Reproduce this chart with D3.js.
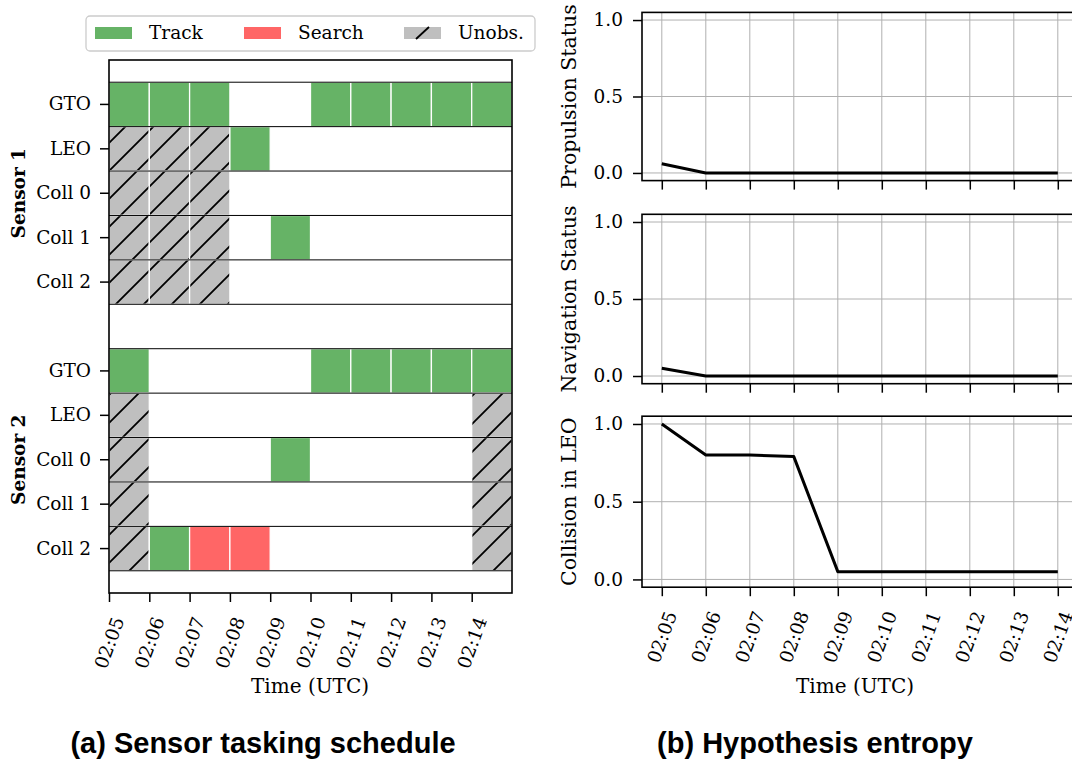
<!DOCTYPE html>
<html><head><meta charset="utf-8">
<script src="https://cdn.jsdelivr.net/npm/d3@7"></script>
<style>
body{margin:0;background:#fff}
svg{display:block}
text{font-family:"DejaVu Serif",serif;fill:#000}
</style>
</head><body><svg id="c" width="1072" height="762"></svg>
<script>
// ---------- data ----------
const minutes = ["02:05","02:06","02:07","02:08","02:09","02:10","02:11","02:12","02:13","02:14"];
const rowLabels = ["GTO","LEO","Coll 0","Coll 1","Coll 2"];
const sensorNames = ["Sensor 1","Sensor 2"];
// T = Track, S = Search, U = Unobservable, "" = idle
const sensor1Schedule = [
  ["T","T","T","","","T","T","T","T","T"],
  ["U","U","U","T","","","","","",""],
  ["U","U","U","","","","","","",""],
  ["U","U","U","","T","","","","",""],
  ["U","U","U","","","","","","",""]
];
const sensor2Schedule = [
  ["T","","","","","T","T","T","T","T"],
  ["U","","","","","","","","","U"],
  ["U","","","","T","","","","","U"],
  ["U","","","","","","","","","U"],
  ["U","T","S","S","","","","","","U"]
];
const legendLabels = ["Track","Search","Unobs."];
const propulsionEntropy = [0.06,0,0,0,0,0,0,0,0,0];
const navigationEntropy = [0.05,0,0,0,0,0,0,0,0,0];
const collisionEntropy  = [1.0,0.80,0.80,0.79,0.05,0.05,0.05,0.05,0.05,0.05];
const entropyLabels = ["Propulsion Status","Navigation Status","Collision in LEO"];
const entropyTicks = [0,0.5,1.0];
const captions = ["(a) Sensor tasking schedule","(b) Hypothesis entropy"];

// ---------- styles ----------
const FS = 18.5;      // tick / legend font
const LFS = 20;       // axis label font
const colors = {T:"#66b366", S:"#ff6666", U:"#bfbfbf"};
const svg = d3.select("#c");
const defs = svg.append("defs");
const pat = defs.append("pattern").attr("id","hatch").attr("patternUnits","userSpaceOnUse")
  .attr("width",28).attr("height",28);
pat.append("path").attr("d","M0,28 L28,0 M-7,7 L7,-7 M21,35 L35,21")
  .attr("stroke","#000").attr("stroke-width",1.8);

// ---------- left panel ----------
const L = {x0:109, x1:512, y0:60, y1:593};
const xL = d3.scaleLinear().domain([0,10]).range([L.x0,L.x1]);
const allRows = [];
sensor1Schedule.forEach((r,i)=>allRows.push({label:rowLabels[i], cells:r}));
allRows.push({label:"", cells:[]});
sensor2Schedule.forEach((r,i)=>allRows.push({label:rowLabels[i], cells:r}));
const yL = d3.scaleBand().domain(d3.range(allRows.length)).range([L.y0,L.y1]).paddingInner(0).paddingOuter(0.5);
const bw = yL.bandwidth();

const gL = svg.append("g");
allRows.forEach((row,ri)=>{
  row.cells.forEach((s,j)=>{
    if(!s) return;
    gL.append("rect").attr("x",xL(j)).attr("y",yL(ri)).attr("width",xL(j+1)-xL(j)).attr("height",bw)
      .attr("fill",colors[s]);
    gL.append("rect").attr("x",xL(j)).attr("y",yL(ri)).attr("width",xL(j+1)-xL(j)).attr("height",bw)
      .attr("fill",s==="U"?"url(#hatch)":"none").attr("stroke","#fff").attr("stroke-width",1.3);
  });
});
// row separators
d3.range(allRows.length+1).forEach(i=>{
  const y = i<allRows.length ? yL(i) : yL(allRows.length-1)+bw;
  gL.append("line").attr("x1",L.x0).attr("x2",L.x1).attr("y1",y).attr("y2",y)
    .attr("stroke","#000").attr("stroke-width",1);
});
gL.append("rect").attr("x",L.x0).attr("y",L.y0).attr("width",L.x1-L.x0).attr("height",L.y1-L.y0)
  .attr("fill","none").attr("stroke","#000").attr("stroke-width",1.6);

// y axis
const rowIdx = d3.range(allRows.length).filter(i=>allRows[i].label);
const yAx = gL.append("g").attr("transform",`translate(${L.x0},0)`)
  .call(d3.axisLeft(yL).tickValues(rowIdx).tickFormat(i=>allRows[i].label).tickSize(9).tickPadding(9));
yAx.select(".domain").remove();
yAx.selectAll("line").attr("stroke","#000").attr("stroke-width",1.5);
yAx.selectAll("text").style("font-family","DejaVu Serif").style("font-size",FS+"px");

// x axis
const xAx = gL.append("g").attr("transform",`translate(0,${L.y1})`)
  .call(d3.axisBottom(xL).tickValues(d3.range(minutes.length)).tickFormat(i=>minutes[i]).tickSize(9));
xAx.select(".domain").remove();
xAx.selectAll("line").attr("stroke","#000").attr("stroke-width",1.5);
xAx.selectAll("text").style("font-family","DejaVu Serif").style("font-size",FS+"px")
  .attr("text-anchor","end").attr("dy",0).attr("y",0)
  .attr("transform","translate(15,27) rotate(-70)");

// sensor labels
sensorNames.forEach((n,k)=>{
  const rows = k===0 ? [0,4] : [6,10];
  const cy = (yL(rows[0]) + yL(rows[1])+bw)/2;
  gL.append("text").attr("transform",`translate(25,${cy}) rotate(-90)`).attr("text-anchor","middle")
    .style("font-weight","bold").style("font-size",FS+"px").text(n);
});
gL.append("text").attr("x",310).attr("y",693).attr("text-anchor","middle").style("font-size",LFS+"px").text("Time (UTC)");

// legend
const lg = svg.append("g");
lg.append("rect").attr("x",86).attr("y",16).attr("width",449).attr("height",35).attr("rx",4)
  .attr("fill","#fff").attr("stroke","#cccccc").attr("stroke-width",1.3);
const legendKeys = ["T","S","U"];
const legendPX = [95,244,404];
const legendTX = [149,298,458];
legendKeys.forEach((k,i)=>{
  lg.append("rect").attr("x",legendPX[i]).attr("y",27).attr("width",37).attr("height",12).attr("fill",colors[k]);
  if(k==="U"){
    lg.append("line").attr("x1",legendPX[i]+12).attr("y1",39).attr("x2",legendPX[i]+25).attr("y2",27)
      .attr("stroke","#000").attr("stroke-width",1.8);
  }
  lg.append("text").attr("x",legendTX[i]).attr("y",39).style("font-size",FS+"px").text(legendLabels[i]);
});

// ---------- right panel ----------
const xR = d3.scaleLinear().domain([-0.45,9.45]).range([642,1077.6]);
const panels = [
  {data:propulsionEntropy, top:12.4, bot:180.6},
  {data:navigationEntropy, top:214.3, bot:383.7},
  {data:collisionEntropy,  top:416.2, bot:587.2}
];
panels.forEach((p,k)=>{
  const g = svg.append("g");
  const y = d3.scaleLinear().domain([-0.05,1.05]).range([p.bot,p.top]);
  const xl = xR.range()[0], xr = xR.range()[1];
  d3.range(minutes.length).forEach(i=>{
    g.append("line").attr("x1",xR(i)).attr("x2",xR(i)).attr("y1",p.top).attr("y2",p.bot)
      .attr("stroke","#b0b0b0").attr("stroke-width",1);
  });
  entropyTicks.forEach(t=>{
    g.append("line").attr("x1",xl).attr("x2",xr).attr("y1",y(t)).attr("y2",y(t))
      .attr("stroke","#b0b0b0").attr("stroke-width",1);
  });
  g.append("path").datum(p.data)
    .attr("d",d3.line().x((d,i)=>xR(i)).y(d=>y(d)))
    .attr("fill","none").attr("stroke","#000").attr("stroke-width",3).attr("stroke-linejoin","round");
  g.append("rect").attr("x",xl).attr("y",p.top).attr("width",xr-xl).attr("height",p.bot-p.top)
    .attr("fill","none").attr("stroke","#000").attr("stroke-width",1.6);
  const ya = g.append("g").attr("transform",`translate(${xl},0)`)
    .call(d3.axisLeft(y).tickValues(entropyTicks).tickFormat(d3.format(".1f")).tickSize(9).tickPadding(10));
  ya.select(".domain").remove();
  ya.selectAll("line").attr("stroke","#000").attr("stroke-width",1.5);
  ya.selectAll("text").style("font-family","DejaVu Serif").style("font-size",FS+"px");
  const xa = g.append("g").attr("transform",`translate(0,${p.bot})`)
    .call(d3.axisBottom(xR).tickValues(d3.range(minutes.length)).tickFormat(i=>k===2?minutes[i]:"").tickSize(9));
  xa.select(".domain").remove();
  xa.selectAll("line").attr("stroke","#000").attr("stroke-width",1.5);
  xa.selectAll("text").style("font-family","DejaVu Serif").style("font-size",FS+"px")
    .attr("text-anchor","end").attr("dy",0).attr("y",0)
    .attr("transform","translate(15,27) rotate(-70)");
  g.append("text").attr("transform",`translate(576,${(p.top+p.bot)/2}) rotate(-90)`)
    .attr("text-anchor","middle").style("font-size",(LFS+0.5)+"px").text(entropyLabels[k]);
});
svg.append("text").attr("x",855).attr("y",693).attr("text-anchor","middle").style("font-size",LFS+"px").text("Time (UTC)");

// captions
[[263,captions[0]],[815,captions[1]]].forEach(([cx,t])=>{
  svg.append("text").attr("x",cx).attr("y",753).attr("text-anchor","middle")
    .style("font-family","'Liberation Sans',Arial,sans-serif").style("font-weight","bold")
    .style("font-size","29px").text(t);
});
</script>
</body></html>
